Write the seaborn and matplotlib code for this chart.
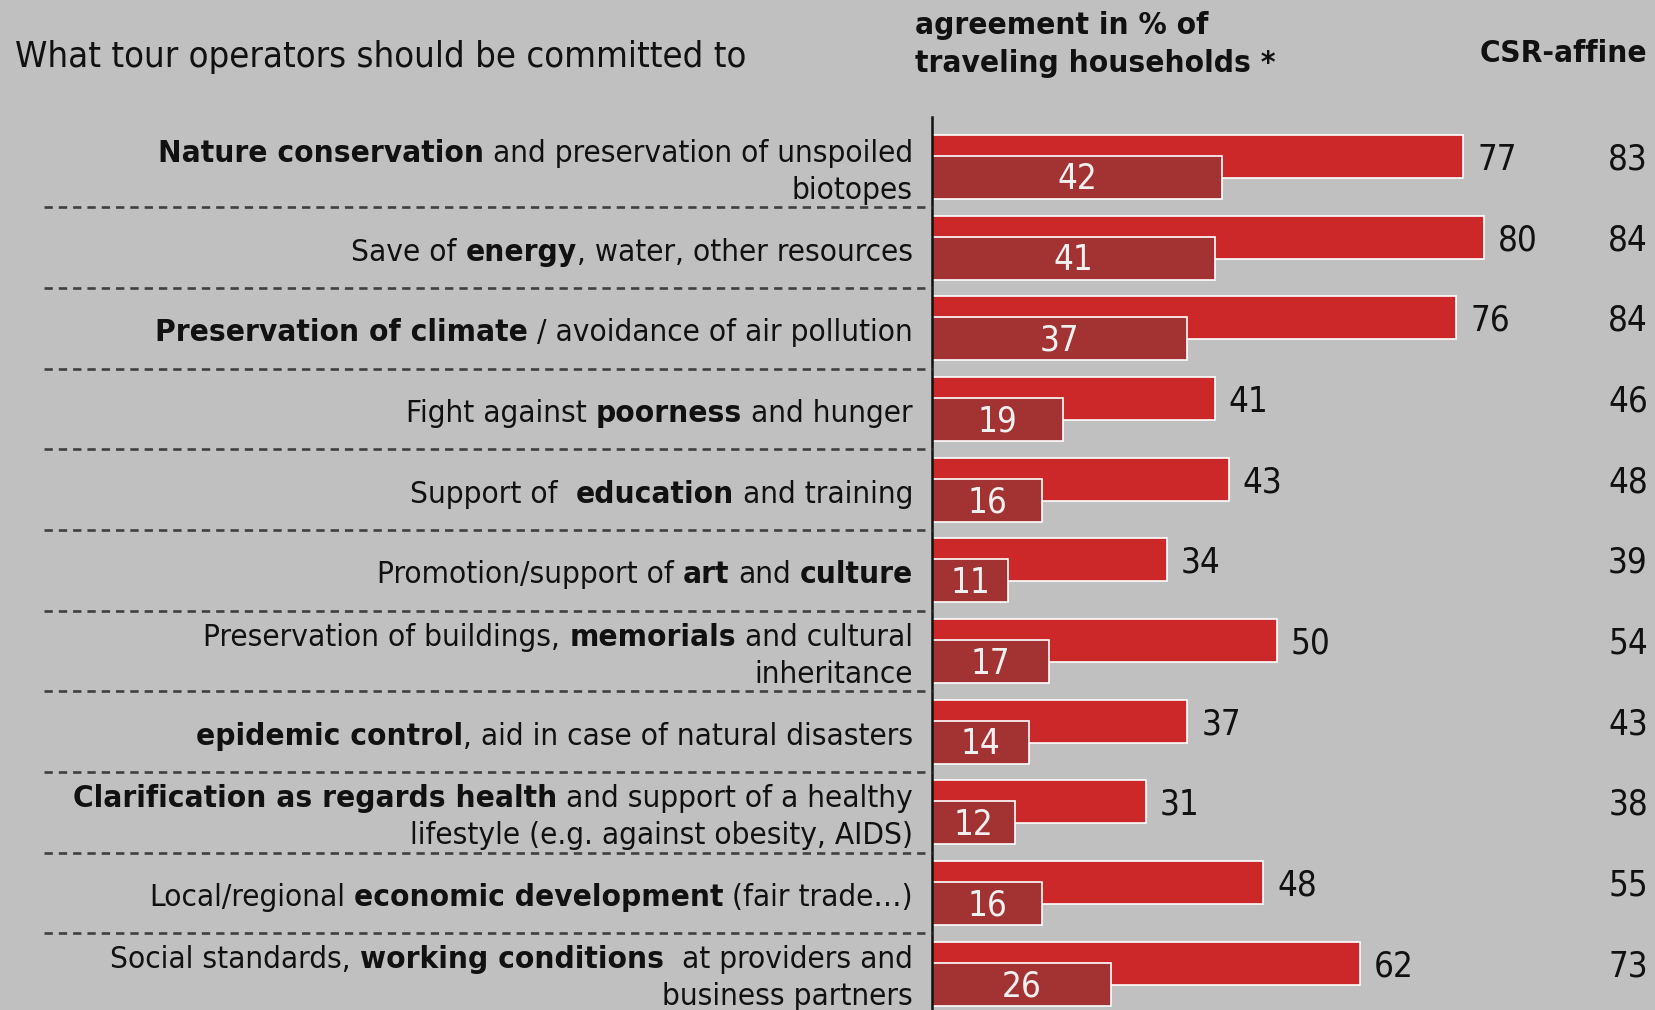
import numpy as np
import pandas as pd
import matplotlib
matplotlib.use("Agg")
import matplotlib.pyplot as plt
import matplotlib.transforms as mtransforms
from matplotlib.font_manager import FontProperties
import seaborn as sns

# ---------------- data ----------------
categories = [
    "Nature conservation", "Save of energy", "Preservation of climate", "Fight against poorness",
    "Support of education", "Promotion of art and culture", "Preservation of memorials",
    "Epidemic control", "Clarification as regards health", "Local economic development",
    "Working conditions",
]
# label lines, each line = list of (text, bold)
label_lines = [
    [[("Nature conservation", True), (" and preservation of unspoiled", False)], [("biotopes", False)]],
    [[("Save of ", False), ("energy", True), (", water, other resources", False)]],
    [[("Preservation of climate", True), (" / avoidance of air pollution", False)]],
    [[("Fight against ", False), ("poorness", True), (" and hunger", False)]],
    [[("Support of  ", False), ("education", True), (" and training", False)]],
    [[("Promotion/support of ", False), ("art", True), (" and ", False), ("culture", True)]],
    [[("Preservation of buildings, ", False), ("memorials", True), (" and cultural", False)],
     [("inheritance", False)]],
    [[("epidemic control", True), (", aid in case of natural disasters", False)]],
    [[("Clarification as regards health", True), (" and support of a healthy", False)],
     [("lifestyle (e.g. against obesity, AIDS)", False)]],
    [[("Local/regional ", False), ("economic development", True), (" (fair trade\u2026)", False)]],
    [[("Social standards, ", False), ("working conditions", True), ("  at providers and", False)],
     [("business partners", False)]],
]
agreement_total = [77, 80, 76, 41, 43, 34, 50, 37, 31, 48, 62]
agreement_strong = [42, 41, 37, 19, 16, 11, 17, 14, 12, 16, 26]
csr_affine = [83, 84, 84, 46, 48, 39, 54, 43, 38, 55, 73]

title_text = "What tour operators should be committed to"
header_lines = ["agreement in % of", "traveling households *"]
csr_header = "CSR-affine"

# ---------------- style ----------------
BG = "#c0c0c0"
RED = "#cc282a"
DARK = "#a33333"
FIG_W, FIG_H, DPI = 1656, 1010, 100
AX_LEFT_PX = 932
AX_TOP_PX = 116.7
ROW0_PX = 167.0
ROW_PITCH = 80.67
PX_PER_UNIT = 6.9

sns.set_theme(style="white")
plt.rcParams["font.family"] = ["DejaVu Sans"]
plt.rcParams["font.stretch"] = "condensed"
plt.rcParams["lines.scale_dashes"] = False

LAB_FS = 22.6
VAL_FS = 25
TITLE_FS = 26.2
HEAD_FS = 22.6

fig = plt.figure(figsize=(FIG_W / DPI, FIG_H / DPI), dpi=DPI, facecolor=BG)
ax = fig.add_axes([AX_LEFT_PX / FIG_W, 0, 1 - AX_LEFT_PX / FIG_W, 1 - AX_TOP_PX / FIG_H])
ax.set_facecolor(BG)

n = len(categories)
rows = np.arange(n)
df = pd.DataFrame({
    "category": categories,
    "pos_total": rows - 0.13,
    "pos_strong": rows + 0.13,
    "total": agreement_total,
    "strong": agreement_strong,
})

bar_h = 43 / ROW_PITCH
sns.barplot(data=df, x="total", y="pos_total", orient="y", native_scale=True, width=bar_h,
            color=RED, saturation=1, edgecolor="white", linewidth=1.2, errorbar=None, ax=ax)
sns.barplot(data=df, x="strong", y="pos_strong", orient="y", native_scale=True, width=bar_h,
            color=DARK, saturation=1, edgecolor="white", linewidth=1.2, errorbar=None, ax=ax)

ax.set_xlim(0, (FIG_W - AX_LEFT_PX) / PX_PER_UNIT)
ax.set_ylim((FIG_H - ROW0_PX) / ROW_PITCH, (AX_TOP_PX - ROW0_PX) / ROW_PITCH)
ax.set_xticks([])
ax.set_yticks([])
ax.set_xlabel("")
ax.set_ylabel("")
for s in ["top", "right", "bottom"]:
    ax.spines[s].set_visible(False)
ax.spines["left"].set_color("#111111")
ax.spines["left"].set_linewidth(1.8)

# value labels
for i in range(n):
    ax.annotate(str(agreement_total[i]), xy=(agreement_total[i], rows[i] - 0.13), xytext=(14, -3),
                textcoords="offset pixels", ha="left", va="center", fontsize=VAL_FS, color="#111111")
    ax.annotate(str(agreement_strong[i]), xy=(agreement_strong[i] / 2, rows[i] + 0.13), xytext=(0, -2),
                textcoords="offset pixels", ha="center", va="center", fontsize=VAL_FS, color="#f0f0f0")
    ax.annotate(str(csr_affine[i]), xy=(1 - 8 / (FIG_W - AX_LEFT_PX), rows[i] - 0.13),
                xycoords=ax.get_yaxis_transform(), xytext=(0, -3), textcoords="offset pixels",
                ha="right", va="center", fontsize=VAL_FS, color="#111111")

# dashed separators
sep_left = -(AX_LEFT_PX - 44) / PX_PER_UNIT
for i in range(n - 1):
    ax.plot([sep_left, 0], [i + 0.5, i + 0.5], color="#404040", lw=1.9, dashes=(6, 4.3),
            clip_on=False, zorder=3)

# category labels with mixed bold/regular
fig.canvas.draw()
r = fig.canvas.get_renderer()
fp_r = FontProperties(family="DejaVu Sans", stretch="condensed", size=LAB_FS)
fp_b = FontProperties(family="DejaVu Sans", stretch="condensed", size=LAB_FS, weight="bold")


def tw(s, fp):
    return (r.get_text_width_height_descent("|" + s + "|", fp, False)[0]
            - r.get_text_width_height_descent("||", fp, False)[0])


LABEL_RIGHT = -19  # pixels relative to axis line
LINE_GAP = 37
for i, lines in enumerate(label_lines):
    nl = len(lines)
    for k, segs in enumerate(lines):
        base_off = 13 + (k - (nl - 1) / 2) * LINE_GAP  # pixels below row centre
        widths = [tw(s, fp_b if b else fp_r) for s, b in segs]
        x = LABEL_RIGHT - sum(widths)
        for (s, b), w in zip(segs, widths):
            fp = fp_b if b else fp_r
            lead = len(s) - len(s.lstrip(" "))
            lw_ = tw(" " * lead, fp) if lead else 0
            tr = ax.transData + mtransforms.Affine2D().translate(x + lw_, -base_off)
            ax.text(0, rows[i], s.strip(), transform=tr, ha="left", va="baseline",
                    fontproperties=fp, color="#111111", clip_on=False)
            x += w

# headers
fig.text(15 / FIG_W, 1 - 57 / FIG_H, title_text, fontsize=TITLE_FS, ha="left", va="center", color="#111111")
fig.text(915 / FIG_W, 1 - 25 / FIG_H, header_lines[0], fontsize=HEAD_FS, weight="bold", ha="left",
         va="center", color="#111111")
fig.text(915 / FIG_W, 1 - 64 / FIG_H, header_lines[1], fontsize=HEAD_FS, weight="bold", ha="left",
         va="center", color="#111111")
fig.text(1647 / FIG_W, 1 - 53 / FIG_H, csr_header, fontsize=HEAD_FS, weight="bold", ha="right",
         va="center", color="#111111")

fig.savefig("out.png", dpi=DPI, facecolor=BG)
